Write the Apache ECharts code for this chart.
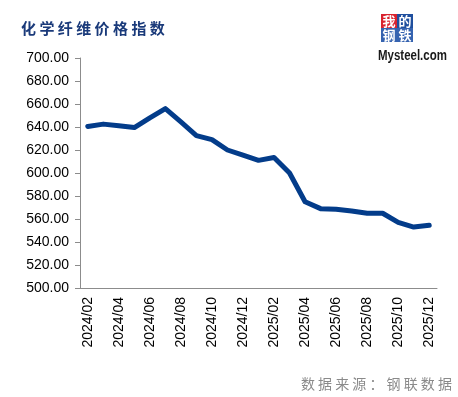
<!DOCTYPE html>
<html>
<head>
<meta charset="utf-8">
<script src="https://cdn.jsdelivr.net/npm/echarts@6/dist/echarts.min.js"></script>
<style>
  html, body { margin: 0; padding: 0; background: #fff; }
  #main { width: 458px; height: 397px; }
</style>
</head>
<body>
<div id="main"></div>
<script>
// 月份
var months = [
  "2024/02", "2024/03", "2024/04", "2024/05", "2024/06", "2024/07", "2024/08",
  "2024/09", "2024/10", "2024/11", "2024/12", "2025/01", "2025/02", "2025/03",
  "2025/04", "2025/05", "2025/06", "2025/07", "2025/08", "2025/09", "2025/10",
  "2025/11", "2025/12"
];
// 化学纤维价格指数
var priceIndex = [
  640.5, 642.5, 641, 639.5, 648, 656, 644.5,
  632.5, 629, 620, 615.5, 611, 613.5, 600,
  575, 569, 568.5, 567, 565, 565, 557,
  553, 554.5
];
var titleText = "化学纤维价格指数";
var sourceText = "数据来源：钢联数据";

var chart = echarts.init(document.getElementById("main"), null, { renderer: "canvas" });

chart.setOption({
  backgroundColor: "#ffffff",
  animation: false,
  title: {
    text: titleText.split("").join(" "),
    left: 16,
    top: 16,
    textStyle: {
      fontFamily: "Noto Sans CJK SC",
      fontSize: 15,
      fontWeight: "bold",
      color: "#1a3a7a"
    }
  },
  grid: {
    left: 80,
    right: 21,
    top: 58,
    bottom: 109
  },
  xAxis: {
    type: "category",
    data: months,
    boundaryGap: true,
    axisLine: { lineStyle: { color: "#8c8c8c", width: 1 } },
    axisTick: {
      interval: 1,
      length: 6,
      lineStyle: { color: "#8c8c8c" }
    },
    axisLabel: {
      interval: 1,
      rotate: 90,
      margin: 9,
      fontFamily: "Arial, Liberation Sans",
      fontSize: 14,
      color: "#000"
    }
  },
  yAxis: {
    type: "value",
    min: 500,
    max: 700,
    interval: 20,
    axisLine: { show: true, lineStyle: { color: "#8c8c8c", width: 1 } },
    axisTick: {
      show: true,
      length: 5,
      lineStyle: { color: "#8c8c8c" }
    },
    splitLine: { show: false },
    axisLabel: {
      margin: 11,
      fontFamily: "Arial, Liberation Sans",
      fontSize: 14,
      color: "#000",
      formatter: function (v) { return v.toFixed(2); }
    }
  },
  series: [
    {
      name: titleText,
      type: "line",
      data: priceIndex,
      symbol: "none",
      smooth: false,
      lineStyle: { color: "#033c8a", width: 5, join: "round", cap: "round" }
    }
  ],
  graphic: [
    // logo
    { type: "rect", shape: { x: 381, y: 14, width: 16, height: 14 }, style: { fill: "#d9232f" } },
    { type: "rect", shape: { x: 397, y: 14, width: 16, height: 14 }, style: { fill: "#1f4f9e" } },
    { type: "rect", shape: { x: 381, y: 28, width: 16, height: 14 }, style: { fill: "#3563b0" } },
    { type: "rect", shape: { x: 397, y: 28, width: 16, height: 14 }, style: { fill: "#3563b0" } },
    { type: "text", style: { x: 389, y: 21, text: "我", fill: "#fff", font: "bold 13px 'Noto Sans CJK SC'", textAlign: "center", textVerticalAlign: "middle" } },
    { type: "text", style: { x: 405, y: 21, text: "的", fill: "#fff", font: "bold 13px 'Noto Sans CJK SC'", textAlign: "center", textVerticalAlign: "middle" } },
    { type: "text", style: { x: 389, y: 35, text: "钢", fill: "#fff", font: "bold 13px 'Noto Sans CJK SC'", textAlign: "center", textVerticalAlign: "middle" } },
    { type: "text", style: { x: 405, y: 35, text: "铁", fill: "#fff", font: "bold 13px 'Noto Sans CJK SC'", textAlign: "center", textVerticalAlign: "middle" } },
    {
      type: "text",
      x: 378, y: 56, scaleX: 0.82,
      style: { x: 0, y: 0, text: "Mysteel.com", fill: "#1a1a1a", font: "bold 14px Arial, 'Liberation Sans'", textAlign: "left", textVerticalAlign: "middle" }
    },
    // 数据来源
    {
      type: "text",
      style: {
        x: 452, y: 384,
        text: sourceText.split("").join(" "),
        fill: "#8a8a8a",
        font: "14px 'Noto Sans CJK SC'",
        textAlign: "right",
        textVerticalAlign: "middle"
      }
    }
  ]
});
</script>
</body>
</html>
